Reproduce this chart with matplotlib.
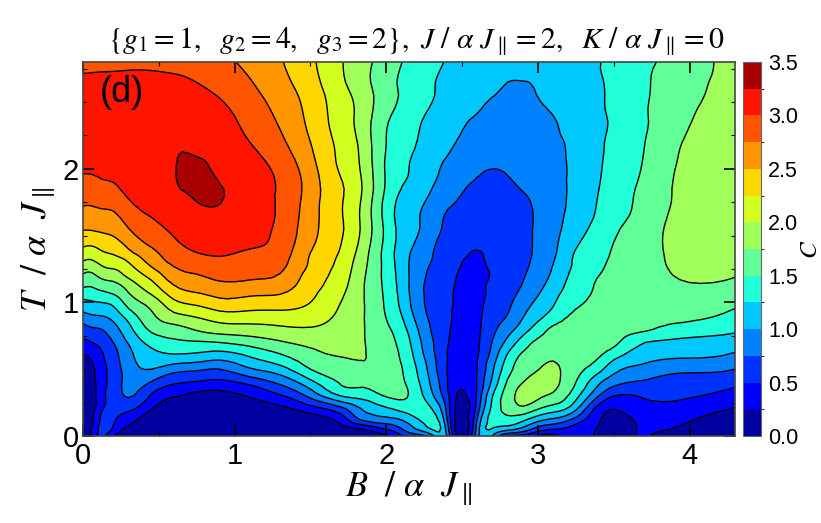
import numpy as np
import matplotlib
matplotlib.use("Agg")
import matplotlib.pyplot as plt
import matplotlib.tri as mtri
from matplotlib.colors import ListedColormap, BoundaryNorm

T_vals = [0, .05, .1, .2, .3, .4, .5, .6, .7, .8, .9, 1.0, 1.1, 1.2, 1.3, 1.4, 1.6, 1.8, 2.0, 2.2, 2.4, 2.6, 2.8]
B_vals = [0, .06, .12, .2, .3, .45, .6, .75, .9, 1.1, 1.3, 1.5, 1.7, 1.85, 2.0, 2.15, 2.3, 2.4, 2.45, 2.5, 2.55, 2.6,
          2.7, 2.8, 2.9, 3.0, 3.1, 3.25, 3.38, 3.5, 3.68, 3.75, 4.0, 4.3]

# one row per B value, going up in T
C_vals = [
    [.05, .08, .1, .14, .17, .2, .22, .245, .42, .65, .92, 1.18, 1.47, 1.72, 1.97, 2.22, 2.6, 2.85, 3.03, 3.12, 3.15, 3.08, 2.93],
    [.33, .28, .22, .17, .17, .19, .22, .29, .5, .72, .98, 1.22, 1.47, 1.7, 1.95, 2.2, 2.6, 2.85, 3.03, 3.12, 3.15, 3.09, 2.93],
    [.58, .58, .55, .46, .4, .37, .38, .45, .58, .75, 1.0, 1.25, 1.53, 1.81, 2.06, 2.27, 2.62, 2.88, 3.05, 3.14, 3.17, 3.1, 2.93],
    [.28, .45, .52, .58, .62, .62, .62, .66, .75, .9, 1.1, 1.32, 1.6, 1.87, 2.12, 2.33, 2.65, 2.9, 3.07, 3.17, 3.19, 3.11, 2.93],
    [.08, .18, .3, .55, .77, .82, .86, .92, 1.02, 1.17, 1.36, 1.6, 1.8, 2.05, 2.25, 2.5, 2.8, 3.03, 3.15, 3.22, 3.21, 3.12, 2.94],
    [.01, .03, .06, .25, .47, .73, 1.0, 1.17, 1.33, 1.55, 1.7, 1.85, 2.1, 2.33, 2.57, 2.73, 2.97, 3.13, 3.2, 3.23, 3.19, 3.12, 2.93],
    [.005, .01, .03, .08, .27, .53, .85, 1.21, 1.45, 1.66, 1.93, 2.19, 2.44, 2.64, 2.8, 2.92, 3.08, 3.2, 3.24, 3.23, 3.17, 3.09, 2.92],
    [.005, .01, .02, .05, .17, .47, .79, 1.18, 1.47, 1.78, 2.03, 2.32, 2.55, 2.73, 2.89, 3.03, 3.17, 3.27, 3.3, 3.19, 3.11, 3.03, 2.9],
    [.005, .01, .015, .04, .15, .43, .75, 1.12, 1.5, 1.87, 2.14, 2.43, 2.63, 2.83, 2.95, 3.06, 3.17, 3.27, 3.2, 3.13, 3.06, 2.96, 2.84],
    [.005, .01, .02, .08, .27, .57, .97, 1.27, 1.6, 1.9, 2.15, 2.4, 2.62, 2.8, 2.92, 3.0, 3.1, 3.12, 3.1, 3.0, 2.91, 2.8, 2.67],
    [.01, .015, .03, .17, .47, .8, 1.15, 1.46, 1.72, 1.95, 2.16, 2.38, 2.58, 2.73, 2.83, 2.9, 2.95, 2.97, 2.93, 2.8, 2.7, 2.6, 2.52],
    [.01, .03, .08, .37, .82, 1.17, 1.5, 1.67, 1.82, 1.98, 2.12, 2.25, 2.33, 2.4, 2.47, 2.52, 2.6, 2.63, 2.6, 2.5, 2.43, 2.37, 2.3],
    [.04, .12, .28, .65, 1.25, 1.52, 1.63, 1.76, 1.84, 1.9, 1.95, 2.0, 2.07, 2.13, 2.18, 2.24, 2.28, 2.28, 2.22, 2.18, 2.13, 2.07, 2.02],
    [.15, .25, .65, 1.02, 1.35, 1.56, 1.7, 1.76, 1.76, 1.76, 1.76, 1.76, 1.76, 1.78, 1.82, 1.87, 1.93, 1.96, 1.94, 1.9, 1.88, 1.85, 1.83],
    [.2, .5, .8, 1.2, 1.52, 1.6, 1.64, 1.63, 1.6, 1.55, 1.49, 1.46, 1.44, 1.42, 1.41, 1.41, 1.42, 1.44, 1.47, 1.5, 1.55, 1.6, 1.63],
    [.6, .87, 1.03, 1.36, 1.49, 1.45, 1.4, 1.34, 1.28, 1.2, 1.1, 1.03, 1.0, 1.0, 1.0, 1.03, 1.08, 1.15, 1.25, 1.31, 1.37, 1.42, 1.45],
    [.9, 1.25, 1.34, 1.26, 1.05, .95, .88, .82, .78, .73, .7, .68, .68, .7, .74, .78, .88, .97, 1.05, 1.13, 1.2, 1.27, 1.33],
    [.98, .9, .82, .68, .58, .52, .5, .51, .53, .55, .57, .58, .59, .6, .61, .62, .71, .84, .96, 1.06, 1.12, 1.18, 1.23],
    [.28, .26, .26, .27, .29, .33, .36, .38, .41, .44, .46, .48, .49, .52, .55, .6, .68, .79, .9, 1.01, 1.08, 1.14, 1.19],
    [.12, .13, .15, .18, .23, .28, .31, .34, .36, .38, .39, .41, .43, .46, .5, .57, .65, .74, .84, .96, 1.05, 1.12, 1.16],
    [.35, .3, .27, .25, .29, .32, .34, .36, .37, .38, .38, .39, .41, .43, .47, .52, .62, .7, .8, .91, 1.02, 1.1, 1.14],
    [.95, .87, .8, .62, .55, .52, .5, .48, .46, .45, .44, .44, .45, .46, .48, .505, .6, .68, .77, .88, .99, 1.07, 1.12],
    [1.0, 1.23, 1.32, 1.32, 1.24, 1.06, .96, .85, .76, .68, .62, .57, .53, .51, .52, .55, .6, .67, .75, .84, .92, 1.02, 1.09],
    [.5, 1.07, 1.35, 1.58, 1.62, 1.53, 1.4, 1.28, 1.07, .9, .76, .7, .65, .62, .62, .63, .66, .7, .76, .83, .91, .99, 1.06],
    [.4, .9, 1.2, 1.67, 1.85, 1.75, 1.62, 1.54, 1.37, 1.13, .98, .88, .78, .73, .7, .69, .7, .74, .79, .86, .93, .99, 1.05],
    [.2, .62, .95, 1.5, 1.8, 1.86, 1.74, 1.64, 1.55, 1.37, 1.17, 1.05, .95, .87, .82, .79, .78, .8, .84, .89, .95, 1.01, 1.07],
    [.18, .5, .82, 1.36, 1.7, 1.82, 1.8, 1.7, 1.6, 1.54, 1.35, 1.22, 1.13, 1.05, .99, .94, .9, .92, .92, .96, 1.0, 1.07, 1.12],
    [.3, .38, .55, 1.03, 1.33, 1.5, 1.58, 1.63, 1.64, 1.6, 1.54, 1.46, 1.38, 1.33, 1.29, 1.25, 1.13, 1.06, 1.05, 1.05, 1.08, 1.12, 1.17],
    [.24, .25, .29, .45, .83, 1.1, 1.38, 1.55, 1.62, 1.62, 1.6, 1.56, 1.52, 1.47, 1.41, 1.36, 1.28, 1.23, 1.2, 1.19, 1.18, 1.19, 1.22],
    [.16, .17, .19, .25, .5, .83, 1.08, 1.34, 1.55, 1.62, 1.68, 1.7, 1.66, 1.62, 1.56, 1.52, 1.43, 1.37, 1.33, 1.3, 1.29, 1.3, 1.32],
    [.27, .27, .28, .38, .52, .72, .93, 1.12, 1.28, 1.55, 1.6, 1.63, 1.65, 1.65, 1.64, 1.63, 1.58, 1.54, 1.5, 1.47, 1.44, 1.42, 1.4],
    [.24, .28, .33, .43, .55, .7, .88, 1.08, 1.23, 1.51, 1.57, 1.62, 1.65, 1.67, 1.68, 1.68, 1.65, 1.6, 1.57, 1.55, 1.53, 1.51, 1.47],
    [.12, .18, .24, .36, .53, .67, .8, 1.04, 1.19, 1.39, 1.56, 1.64, 1.71, 1.79, 1.84, 1.87, 1.89, 1.88, 1.85, 1.79, 1.73, 1.68, 1.64],
    [.05, .1, .15, .23, .37, .57, .75, .95, 1.13, 1.3, 1.44, 1.55, 1.66, 1.76, 1.83, 1.87, 1.93, 1.96, 1.97, 1.97, 1.96, 1.93, 1.9],
]

levels = [0, .25, .5, .75, 1.0, 1.25, 1.5, 1.75, 2.0, 2.25, 2.5, 2.75, 3.0, 3.25, 3.5]
colors = ["#0000a0", "#0000ff", "#0032ff", "#0082ff", "#00c8ff", "#20ffd8", "#60ff98", "#a0ff58",
          "#d2ff20", "#ffd700", "#ff9600", "#ff5500", "#ff1400", "#a80000"]

plt.rcParams["font.family"] = ["Liberation Sans", "DejaVu Sans"]
plt.rcParams["mathtext.fontset"] = "stix"

W, H = 821, 523
fig = plt.figure(figsize=(W / 100, H / 100), dpi=100)
ax = fig.add_axes([83 / W, 1 - 436 / H, (735 - 83) / W, (436 - 62) / H])
cax = fig.add_axes([743 / W, 1 - 436 / H, (761 - 743) / W, (436 - 62) / H])

B, T = np.meshgrid(B_vals, T_vals, indexing="ij")
C = np.array(C_vals)

# smooth the contours with matplotlib's own refiner
grid = mtri.Triangulation(B.ravel(), T.ravel())
interp = mtri.CubicTriInterpolator(grid, C.ravel(), kind="min_E")
fine_tri, fine_C = mtri.UniformTriRefiner(grid).refine_field(C.ravel(), triinterpolator=interp, subdiv=2)
fine_C = np.clip(fine_C, 0.001, 3.499)

cmap = ListedColormap(colors)
norm = BoundaryNorm(levels, cmap.N)
cf = ax.tricontourf(fine_tri, fine_C, levels=levels, cmap=cmap, norm=norm)
ax.tricontour(fine_tri, fine_C, levels=levels[1:-1], colors="black", linewidths=1.0)

ax.set_xlim(0, 4.3)
ax.set_ylim(0, 2.8)
ax.set_xticks([0, 1, 2, 3, 4])
ax.set_yticks([0, 1, 2])
ax.set_xticks([.5, 1.5, 2.5, 3.5], minor=True)
ax.set_yticks([.25, .5, .75, 1.25, 1.5, 1.75, 2.25, 2.5, 2.75], minor=True)
ax.tick_params(which="major", direction="in", top=True, right=True, length=8, width=1.2, labelsize=21, pad=3)
ax.tick_params(axis="x", which="major", pad=4)
ax.tick_params(which="minor", direction="in", top=True, right=True, length=3, width=0.8)
for s in ax.spines.values():
    s.set_color("#444444")
    s.set_linewidth(1.2)

ax.set_xlabel(r"$B\ \ /\ \alpha\ \ J_{\parallel}$", fontsize=26, labelpad=0)
ax.set_ylabel(r"$T\ \ /\ \alpha\ \ J_{\parallel}$", fontsize=26, labelpad=3)
ax.set_title(r"$\{g_1=1,\ \ g_2=4,\ \ g_3=2\},\ J\ /\ \alpha\ J_{\parallel}=2,\ \ K\ /\ \alpha\ J_{\parallel}=0$",
             fontsize=21.5, pad=10, x=0.511)
ax.text(100, H - 93, "(d)", fontsize=26, va="center", ha="left", transform=None)

cb = fig.colorbar(cf, cax=cax, ticks=[0, .5, 1, 1.5, 2, 2.5, 3, 3.5], spacing="proportional")
cb.ax.set_yticklabels(["0.0", "0.5", "1.0", "1.5", "2.0", "2.5", "3.0", "3.5"])
cb.ax.tick_params(length=0, labelsize=15.5, pad=5)
cb.outline.set_edgecolor("#666666")
cb.set_label(r"$C$", fontsize=18, labelpad=0)

fig.savefig("out.png", dpi=100)
